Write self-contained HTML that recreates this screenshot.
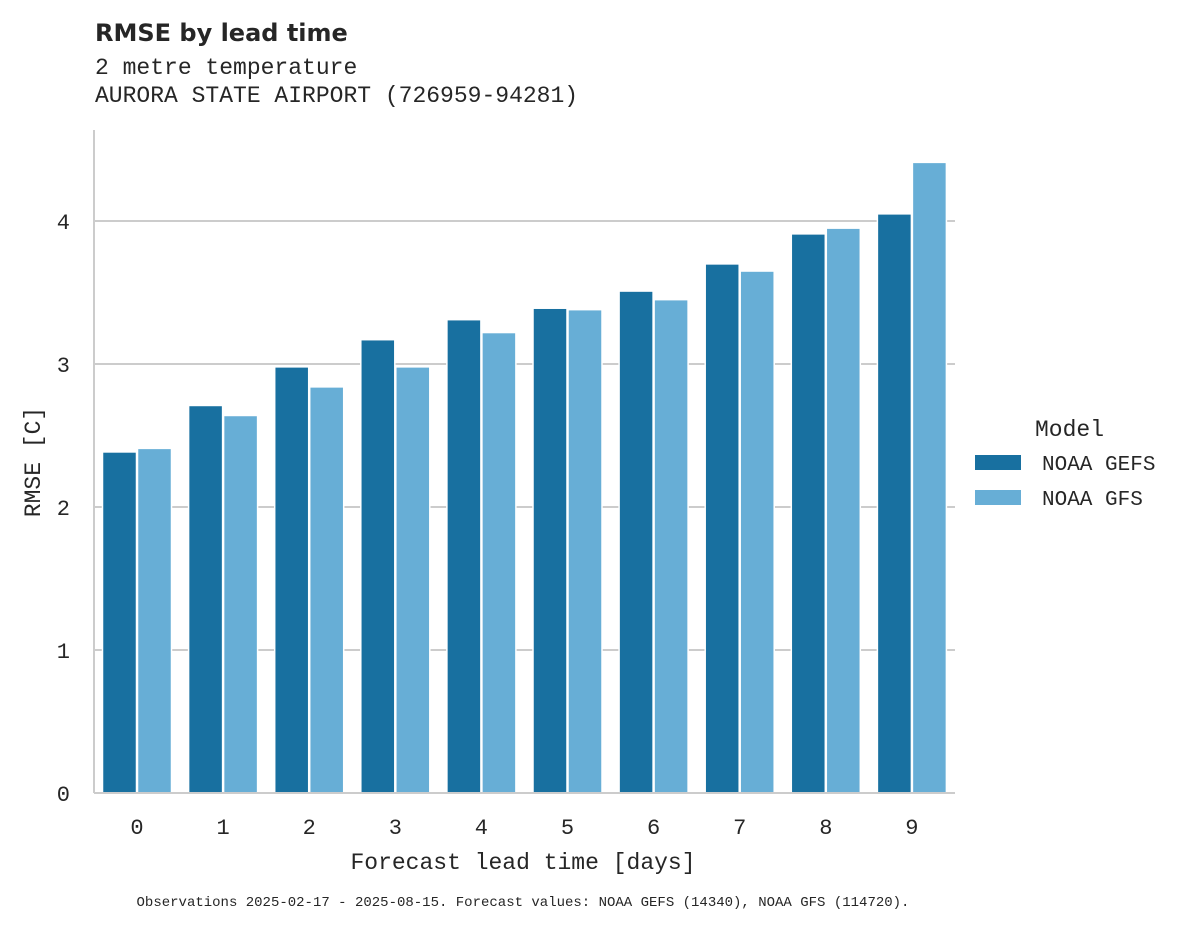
<!DOCTYPE html>
<html><head><meta charset="utf-8"><style>
body{margin:0;background:#fff;width:1195px;height:928px;overflow:hidden}
text{font-family:"Liberation Mono",monospace;fill:#262626}
</style></head><body>
<svg width="1195" height="928">
<text x="95" y="41" style="font-family:'DejaVu Sans','Liberation Sans',sans-serif;font-weight:bold;font-size:24px">RMSE by lead time</text>
<text x="95" y="74" font-size="23">2 metre temperature</text>
<text x="95" y="102" font-size="23">AURORA STATE AIRPORT (726959-94281)</text>
<g id="grid"></g>
<g id="bars"></g>
<line x1="94" y1="130" x2="94" y2="793" stroke="#ccc" stroke-width="2"/>
<line x1="94" y1="793" x2="955" y2="793" stroke="#ccc" stroke-width="2"/>
<g id="ticks"></g>
<text x="523" y="869" font-size="23" text-anchor="middle">Forecast lead time [days]</text>
<text transform="translate(40,462) rotate(-90)" font-size="23" text-anchor="middle">RMSE [C]</text>
<text x="523" y="906" font-size="14" text-anchor="middle">Observations 2025-02-17 - 2025-08-15. Forecast values: NOAA GEFS (14340), NOAA GFS (114720).</text>
<g>
<text x="1035" y="436" font-size="23">Model</text>
<rect x="975" y="455" width="46" height="15" fill="#1870a0"/>
<text x="1042" y="470" font-size="21">NOAA GEFS</text>
<rect x="975" y="490" width="46" height="15" fill="#67aed6"/>
<text x="1042" y="505" font-size="21">NOAA GFS</text>
</g>
</svg>
<script>
const categories=["0","1","2","3","4","5","6","7","8","9"];
const gefs=[2.385,2.71,2.98,3.17,3.31,3.39,3.51,3.70,3.91,4.05];
const gfs=[2.41,2.64,2.84,2.98,3.22,3.38,3.45,3.65,3.95,4.41];
const yTicks=[0,1,2,3,4];
const NS="http://www.w3.org/2000/svg";
const y=v=>793-v*143;
const step=86.1, x0=137;
const x=i=>x0+i*step;
const mk=(t,a,p)=>{const e=document.createElementNS(NS,t);for(const k in a)e.setAttribute(k,a[k]);document.getElementById(p).appendChild(e);return e;};
yTicks.forEach(v=>{
  if(v>0){const g=mk('line',{x1:94,x2:955,y1:y(v),y2:y(v),stroke:'#ccc','stroke-width':2},'grid');
  
  }
  const t=mk('text',{x:70,y:y(v)+8,'font-size':22,'text-anchor':'end'},'ticks');t.textContent=v;
  
  
});
categories.forEach((c,i)=>{
  const a=mk('rect',{x:x(i)-34.5,y:y(gefs[i]),width:34,height:gefs[i]*143,fill:'#1870a0',stroke:'#fff','stroke-width':1.5},'bars');
  
  
  const b=mk('rect',{x:x(i)+0.5,y:y(gfs[i]),width:34,height:gfs[i]*143,fill:'#67aed6',stroke:'#fff','stroke-width':1.5},'bars');
  
  
  const t=mk('text',{x:x(i),y:834,'font-size':22,'text-anchor':'middle'},'ticks');t.textContent=c;
  
  
});
</script>
</body></html>
